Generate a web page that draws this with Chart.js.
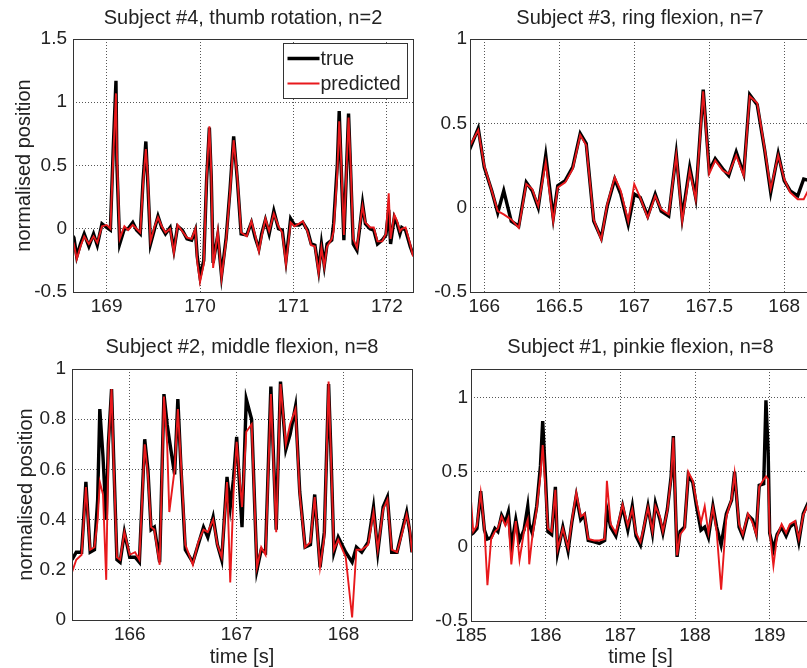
<!DOCTYPE html>
<html>
<head>
<meta charset="utf-8">
<title>finger position: true vs predicted</title>
<script src="https://cdn.jsdelivr.net/npm/chart.js@4.4.1/dist/chart.umd.min.js"></script>
<style>
  html, body { margin: 0; padding: 0; background: #fff; }
  #wrap { position: relative; width: 807px; height: 668px; overflow: hidden; background: #fff; }
  #wrap canvas { position: absolute; left: 0; top: 0; }
</style>
</head>
<body>
<div id="wrap">
  <canvas id="c1" width="812" height="668"></canvas>
  <canvas id="c2" width="812" height="668"></canvas>
  <canvas id="c3" width="812" height="668"></canvas>
  <canvas id="c4" width="812" height="668"></canvas>
</div>
<script>
// --- data ---
const legendNames = ['true', 'predicted'];

// Subject #4, thumb rotation
const p1Title = 'Subject #4, thumb rotation, n=2';
const p1Time = [168.63,168.65,168.68,168.72,168.76,168.81,168.86,168.90,168.95,169.00,169.04,169.07,169.10,169.11,169.14,169.19,169.23,169.28,169.32,169.36,169.39,169.42,169.44,169.47,169.51,169.55,169.59,169.63,169.68,169.72,169.76,169.81,169.86,169.91,169.95,169.97,170.00,170.04,170.07,170.10,170.12,170.14,170.19,170.23,170.28,170.32,170.36,170.40,170.44,170.50,170.55,170.59,170.63,170.66,170.70,170.74,170.79,170.84,170.88,170.92,170.97,171.01,171.06,171.10,171.15,171.19,171.23,171.27,171.30,171.33,171.36,171.41,171.43,171.47,171.49,171.51,171.54,171.57,171.59,171.61,171.64,171.68,171.71,171.74,171.77,171.82,171.86,171.90,171.95,171.99,172.02,172.04,172.08,172.11,172.14,172.16,172.20,172.25,172.28];
const p1True = [-0.05,-0.07,-0.22,-0.12,-0.04,-0.14,-0.04,-0.13,0.04,0.01,-0.01,0.62,1.17,0.51,-0.12,0.00,0.00,0.05,-0.01,-0.04,0.38,0.69,0.38,-0.12,-0.01,0.10,0.01,-0.04,0.01,-0.17,0.02,-0.01,-0.08,-0.09,-0.01,-0.22,-0.38,-0.25,0.38,0.80,0.41,-0.27,-0.05,-0.37,-0.07,0.30,0.73,0.38,-0.04,-0.05,0.05,-0.07,-0.16,-0.04,0.07,-0.04,0.14,0.00,-0.01,-0.25,0.08,0.03,0.03,0.05,-0.01,-0.12,-0.13,-0.33,-0.12,-0.29,-0.12,-0.09,0.04,0.51,0.93,0.51,-0.09,0.51,0.91,0.51,-0.12,-0.17,0.01,0.20,0.04,0.00,-0.01,-0.12,-0.09,-0.05,0.15,-0.12,0.09,0.04,-0.04,0.01,-0.01,-0.14,-0.20];
const p1Pred = [-0.08,-0.12,-0.24,-0.14,-0.06,-0.12,-0.06,-0.11,0.02,0.03,0.00,0.55,1.07,0.60,-0.08,0.02,-0.01,0.03,0.00,-0.03,0.35,0.63,0.42,-0.10,0.01,0.09,0.02,-0.03,0.00,-0.19,0.03,-0.02,-0.07,-0.08,0.00,-0.26,-0.42,-0.28,0.40,0.81,0.45,-0.31,-0.02,-0.39,-0.09,0.28,0.70,0.40,-0.03,-0.06,0.06,-0.05,-0.18,-0.06,0.08,-0.02,0.12,0.02,-0.03,-0.28,0.05,0.02,0.04,0.06,-0.02,-0.13,-0.14,-0.35,-0.15,-0.30,-0.14,-0.08,-0.02,0.45,0.85,0.55,-0.05,0.50,0.88,0.55,-0.08,-0.15,0.02,0.18,0.05,0.01,0.01,-0.10,-0.10,-0.04,0.28,-0.08,0.11,0.06,-0.02,0.00,0.01,-0.12,-0.22];
const p1XTicks = [169, 170, 171, 172];
const p1YTicks = [-0.5, 0, 0.5, 1, 1.5];

// Subject #3, ring flexion
const p2Title = 'Subject #3, ring flexion, n=7';
const p2Time = [165.90,165.96,166.00,166.05,166.09,166.13,166.18,166.23,166.28,166.32,166.36,166.41,166.46,166.49,166.54,166.59,166.64,166.68,166.73,166.78,166.82,166.87,166.91,166.96,167.00,167.04,167.09,167.14,167.18,167.23,167.28,167.32,167.37,167.41,167.46,167.50,167.54,167.59,167.63,167.68,167.73,167.77,167.82,167.87,167.91,167.96,168.00,168.04,168.09,168.13,168.17];
const p2True = [0.34,0.47,0.24,0.10,-0.03,0.10,-0.08,-0.11,0.15,0.10,0.00,0.31,-0.06,0.13,0.16,0.24,0.44,0.38,-0.08,-0.18,0.01,0.17,0.08,-0.10,0.08,0.06,-0.05,0.08,-0.02,-0.05,0.32,-0.06,0.24,0.06,0.70,0.22,0.29,0.23,0.19,0.33,0.20,0.67,0.61,0.34,0.09,0.32,0.16,0.10,0.07,0.17,0.16];
const p2Pred = [0.36,0.46,0.25,0.10,-0.02,-0.04,-0.07,-0.12,0.14,0.11,0.01,0.27,-0.08,0.12,0.15,0.23,0.43,0.37,-0.07,-0.19,0.02,0.18,0.10,-0.08,0.14,0.06,-0.06,0.07,-0.01,-0.04,0.31,-0.08,0.22,0.05,0.69,0.20,0.28,0.22,0.20,0.31,0.19,0.66,0.62,0.35,0.11,0.31,0.17,0.09,0.05,0.05,0.12];
const p2XTicks = [166, 166.5, 167, 167.5, 168];
const p2YTicks = [-0.5, 0, 0.5, 1];

// Subject #2, middle flexion
const p3Title = 'Subject #2, middle flexion, n=8';
const p3Time = [165.46,165.50,165.55,165.59,165.63,165.67,165.70,165.72,165.75,165.78,165.80,165.83,165.85,165.88,165.91,165.95,166.00,166.05,166.09,166.14,166.17,166.20,166.23,166.28,166.32,166.35,166.37,166.42,166.45,166.48,166.52,166.59,166.64,166.69,166.73,166.78,166.82,166.86,166.91,166.94,166.97,167.00,167.05,167.09,167.14,167.19,167.23,167.27,167.32,167.37,167.41,167.46,167.50,167.55,167.59,167.64,167.69,167.73,167.78,167.82,167.86,167.88,167.91,167.95,168.02,168.08,168.12,168.17,168.23,168.28,168.32,168.37,168.41,168.45,168.50,168.55,168.59,168.62,168.64];
const p3True = [0.24,0.27,0.27,0.55,0.27,0.28,0.48,0.84,0.65,0.40,0.70,0.92,0.64,0.24,0.23,0.35,0.25,0.25,0.23,0.72,0.60,0.36,0.37,0.23,0.90,0.78,0.72,0.58,0.88,0.60,0.28,0.23,0.30,0.37,0.33,0.41,0.30,0.24,0.57,0.45,0.56,0.73,0.37,0.88,0.80,0.20,0.28,0.27,0.93,0.36,0.95,0.68,0.74,0.85,0.51,0.29,0.30,0.50,0.21,0.35,0.94,0.69,0.27,0.33,0.27,0.23,0.29,0.27,0.31,0.45,0.27,0.45,0.49,0.27,0.27,0.36,0.43,0.35,0.27];
const p3Pred = [0.19,0.24,0.26,0.53,0.28,0.29,0.40,0.55,0.50,0.16,0.68,0.92,0.62,0.25,0.24,0.35,0.26,0.27,0.24,0.70,0.58,0.37,0.36,0.22,0.89,0.70,0.43,0.60,0.84,0.62,0.30,0.22,0.31,0.36,0.35,0.40,0.30,0.25,0.55,0.15,0.50,0.71,0.45,0.75,0.78,0.21,0.29,0.26,0.90,0.35,0.94,0.70,0.78,0.84,0.50,0.29,0.31,0.49,0.21,0.33,0.95,0.68,0.28,0.32,0.25,0.01,0.28,0.28,0.30,0.43,0.28,0.44,0.48,0.28,0.27,0.35,0.42,0.36,0.27];
const p3XTicks = [166, 167, 168];
const p3YTicks = [0, 0.2, 0.4, 0.6, 0.8, 1];

// Subject #1, pinkie flexion
const p4Title = 'Subject #1, pinkie flexion, n=8';
const p4Time = [185.00,185.03,185.08,185.13,185.18,185.22,185.27,185.32,185.36,185.41,185.46,185.50,185.54,185.60,185.65,185.71,185.76,185.78,185.82,185.88,185.93,185.96,185.99,186.03,186.08,186.13,186.16,186.23,186.30,186.35,186.41,186.47,186.52,186.57,186.65,186.72,186.79,186.82,186.87,186.94,187.03,187.10,187.16,187.21,187.27,187.31,187.37,187.43,187.47,187.53,187.57,187.63,187.68,187.71,187.73,187.76,187.80,187.86,187.91,187.97,188.02,188.08,188.13,188.18,188.24,188.29,188.35,188.42,188.49,188.53,188.59,188.64,188.71,188.77,188.82,188.86,188.92,188.95,188.98,189.00,189.05,189.10,189.16,189.22,189.27,189.34,189.39,189.45,189.54];
const p4True = [0.08,0.09,0.12,0.37,0.11,0.05,0.06,0.12,0.10,0.21,0.16,0.23,0.00,0.18,0.04,0.11,0.27,0.15,0.09,0.27,0.54,0.84,0.54,0.10,0.08,0.40,-0.04,0.13,-0.03,0.16,0.34,0.18,0.21,0.04,0.03,0.02,0.04,0.25,0.13,0.07,0.27,0.11,0.27,0.07,0.01,0.11,0.27,0.09,0.29,0.18,0.09,0.25,0.47,0.74,0.40,-0.07,0.10,0.13,0.48,0.43,0.27,0.11,0.13,0.06,0.27,0.13,0.01,0.22,0.31,0.50,0.13,0.07,0.21,0.18,0.09,0.41,0.42,0.98,0.63,0.09,-0.02,0.08,0.13,0.07,0.13,0.16,0.03,0.22,0.32];
const p4Pred = [0.31,0.10,0.14,0.36,0.12,-0.26,0.05,0.10,0.12,0.20,0.14,0.19,-0.12,0.17,-0.09,0.10,0.18,-0.12,0.06,0.25,0.48,0.68,0.45,0.12,0.10,0.38,-0.02,0.12,-0.01,0.17,0.36,0.20,0.22,0.05,0.04,0.04,0.05,0.44,0.15,0.09,0.28,0.14,0.25,0.09,0.03,0.12,0.26,0.10,0.27,0.20,0.10,0.24,0.46,0.73,0.42,-0.06,0.08,0.12,0.50,0.44,0.30,0.16,0.27,0.09,0.26,0.10,-0.29,0.20,0.32,0.49,0.15,0.08,0.22,0.16,0.08,0.40,0.45,0.47,0.45,0.10,-0.13,0.07,0.15,0.09,0.15,0.17,0.05,0.21,0.31];
const p4XTicks = [185, 186, 187, 188, 189];
const p4YTicks = [-0.5, 0, 0.5, 1];

// --- drawing ---
const FONT = '"Liberation Sans", Arial, Helvetica, sans-serif';
const TEXT = '#222';
const RED = '#e8191c';
const CANVAS_W = 812, CANVAS_H = 668;
const Y_AXIS_W = 60, X_AXIS_H = 40;

// box around the axes, title, axis labels and legend (MATLAB look)
const panelDecor = {
  id: 'panelDecor',
  afterDraw(chart, args, o) {
    const ctx = chart.ctx;
    const a = chart.chartArea;
    ctx.save();
    ctx.strokeStyle = '#333';
    ctx.lineWidth = 1;
    ctx.strokeRect(Math.round(a.left) + 0.5, Math.round(a.top) + 0.5,
                   Math.round(a.right - a.left), Math.round(a.bottom - a.top));
    ctx.fillStyle = TEXT;
    ctx.font = '20px ' + FONT;
    ctx.textAlign = 'center';
    ctx.textBaseline = 'alphabetic';
    const cx = (a.left + a.right) / 2;
    ctx.fillText(o.title, cx, o.titleY);
    if (o.xLabel) ctx.fillText(o.xLabel, cx, o.xLabelY);
    if (o.yLabel) {
      ctx.save();
      ctx.translate(o.yLabelX, (a.top + a.bottom) / 2);
      ctx.rotate(-Math.PI / 2);
      ctx.fillText(o.yLabel, 0, 0);
      ctx.restore();
    }
    if (o.legend) {
      const bx = 283.5, by = 43.5, bw = 124, bh = 55;
      ctx.fillStyle = '#fff';
      ctx.fillRect(bx, by, bw, bh);
      ctx.strokeStyle = '#333';
      ctx.strokeRect(bx, by, bw, bh);
      ctx.font = '19.5px ' + FONT;
      ctx.textAlign = 'left';
      ctx.textBaseline = 'middle';
      const sets = chart.data.datasets;
      sets.forEach((ds, i) => {
        const ly = by + 15 + i * 25;
        ctx.strokeStyle = ds.borderColor;
        ctx.lineWidth = ds.borderWidth;
        ctx.beginPath();
        ctx.moveTo(bx + 4, ly);
        ctx.lineTo(bx + 36, ly);
        ctx.stroke();
        ctx.fillStyle = TEXT;
        ctx.fillText(legendNames[i], bx + 37, ly + 1);
      });
    }
    ctx.restore();
  }
};

function makePanel(id, p) {
  const pts = vals => p.time.map((t, i) => ({ x: t, y: vals[i] }));
  const tickFont = { family: FONT, size: 19 };
  new Chart(document.getElementById(id), {
    type: 'line',
    data: {
      datasets: [
        { label: legendNames[0], data: pts(p.trueVals), borderColor: '#000', borderWidth: 3.4, order: 2 },
        { label: legendNames[1], data: pts(p.predVals), borderColor: RED, borderWidth: 1.9, order: 1 }
      ]
    },
    options: {
      responsive: false,
      animation: false,
      events: [],
      elements: { point: { radius: 0 }, line: { tension: 0 } },
      layout: {
        padding: {
          left: p.area.left - Y_AXIS_W,
          top: p.area.top,
          right: CANVAS_W - p.area.right,
          bottom: CANVAS_H - p.area.bottom - X_AXIS_H
        }
      },
      scales: {
        x: {
          type: 'linear', min: p.xMin, max: p.xMax,
          afterBuildTicks: s => { s.ticks = p.xTicks.map(v => ({ value: v })); },
          afterFit: s => { s.height = X_AXIS_H; s.paddingLeft = 0; s.paddingRight = 0; },
          ticks: { color: TEXT, font: tickFont, padding: 3, maxRotation: 0, autoSkip: false, callback: v => String(v) },
          grid: { color: 'rgba(30,30,30,0.75)', lineWidth: 1, drawTicks: false },
          border: { display: false, dash: [1, 2] }
        },
        y: {
          min: p.yMin, max: p.yMax,
          afterBuildTicks: s => { s.ticks = p.yTicks.map(v => ({ value: v })); },
          afterFit: s => { s.width = Y_AXIS_W; s.paddingTop = 0; s.paddingBottom = 0; },
          ticks: { color: TEXT, font: tickFont, padding: p.yPad, autoSkip: false, callback: v => String(v) },
          grid: { color: 'rgba(30,30,30,0.75)', lineWidth: 1, drawTicks: false },
          border: { display: false, dash: [1, 2] }
        }
      },
      plugins: {
        legend: { display: false },
        tooltip: { enabled: false },
        panelDecor: {
          title: p.title, titleY: p.titleY,
          xLabel: p.xLabel, xLabelY: 663,
          yLabel: p.yLabel, yLabelX: p.yLabelX,
          legend: p.legend
        }
      }
    },
    plugins: [panelDecor]
  });
}

makePanel('c1', {
  title: p1Title, titleY: 24, yLabel: 'normalised position', yLabelX: 30, legend: true,
  time: p1Time, trueVals: p1True, predVals: p1Pred,
  xMin: 168.64, xMax: 172.28, yMin: -0.5, yMax: 1.5, xTicks: p1XTicks, yTicks: p1YTicks,
  area: { left: 73, top: 39, right: 413, bottom: 292 }, yPad: 6
});
makePanel('c2', {
  title: p2Title, titleY: 24,
  time: p2Time, trueVals: p2True, predVals: p2Pred,
  xMin: 165.905, xMax: 168.172, yMin: -0.5, yMax: 1, xTicks: p2XTicks, yTicks: p2YTicks,
  area: { left: 470, top: 39, right: 810, bottom: 292 }, yPad: 3
});
makePanel('c3', {
  title: p3Title, titleY: 353, yLabel: 'normalised position', yLabelX: 32, xLabel: 'time [s]',
  time: p3Time, trueVals: p3True, predVals: p3Pred,
  xMin: 165.46, xMax: 168.64, yMin: 0, yMax: 1, xTicks: p3XTicks, yTicks: p3YTicks,
  area: { left: 72, top: 369, right: 412, bottom: 620 }, yPad: 6
});
makePanel('c4', {
  title: p4Title, titleY: 353, xLabel: 'time [s]',
  time: p4Time, trueVals: p4True, predVals: p4Pred,
  xMin: 185, xMax: 189.54, yMin: -0.5, yMax: 1.19, xTicks: p4XTicks, yTicks: p4YTicks,
  area: { left: 471, top: 369, right: 810, bottom: 621 }, yPad: 3
});
</script>
</body>
</html>
